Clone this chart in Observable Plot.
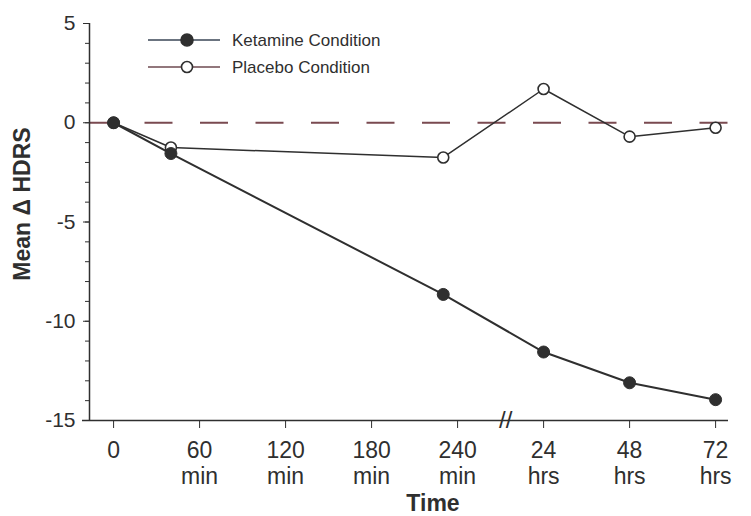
<!DOCTYPE html>
<html><head><meta charset="utf-8">
<script src="https://cdn.jsdelivr.net/npm/d3@7"></script>
<script src="https://cdn.jsdelivr.net/npm/@observablehq/plot@0.6"></script>
<style>body{margin:0;background:#fff} svg{display:block}</style>
</head><body><div id="chart"></div>
<script>
// ---- data ----
const timesMin = [0, 40, 230, 1440, 2880, 4320];            // minutes after infusion
const ketamine = [0, -1.55, -8.65, -11.55, -13.1, -13.95];
const placebo  = [0, -1.25, -1.75, 1.7, -0.7, -0.25];
const tickTimes  = [0, 60, 120, 180, 240, 1440, 2880, 4320];
const tickLabels = ["0", "60\nmin", "120\nmin", "180\nmin", "240\nmin", "24\nhrs", "48\nhrs", "72\nhrs"];
const yMajor = [5, 0, -5, -10, -15];
const yMinor = d3.range(-15, 6);
const seriesNames = ["Ketamine Condition", "Placebo Condition"];

// broken time axis: minutes up to 240 on one scale, then one slot per day
const pos = m => m <= 240 ? m / 60 : 4 + m / 1440;
const breakPos = 4.56;
const xDomain = [-0.28, 7.15];
const yDomain = [-15, 5];
const ink = "#2f2f2f";

const rows = vals => timesMin.map((t, i) => ({x: pos(t), y: vals[i]}));
const K = rows(ketamine), P = rows(placebo);
const labelAt = new Map(tickTimes.map((t, i) => [pos(t), tickLabels[i]]));

const chart = Plot.plot({
  width: 751, height: 516,
  marginLeft: 89, marginRight: 23, marginTop: 23, marginBottom: 96,
  x: {domain: xDomain, axis: null},
  y: {domain: yDomain, axis: null},
  style: {fontFamily: "'Liberation Sans', Arial, sans-serif", color: ink, background: "#fff"},
  marks: [
    Plot.ruleY([0], {stroke: "#7a4a50", strokeWidth: 2, strokeDasharray: "28,27.5"}),
    Plot.ruleX([xDomain[0]], {stroke: ink, strokeWidth: 1.5}),
    Plot.ruleY([yDomain[0]], {stroke: ink, strokeWidth: 1.5, insetLeft: -7}),
    Plot.axisY({ticks: yMinor, tickSize: 4, tickFormat: () => "", stroke: ink, label: null}),
    Plot.axisY({ticks: yMajor, tickSize: 6, tickPadding: 8, fontSize: 21, tickFormat: d => String(d), stroke: ink, fill: ink, label: null}),
    Plot.axisX({ticks: tickTimes.map(pos), tickSize: 8, tickPadding: 12, fontSize: 23, lineHeight: 1.1,
      tickFormat: d => labelAt.get(d), stroke: ink, fill: ink, label: null}),
    Plot.text([breakPos], {x: d => d, y: () => yDomain[0], text: () => "//", fontSize: 24, lineAnchor: "middle", fill: ink}),
    Plot.line(P, {x: "x", y: "y", stroke: ink, strokeWidth: 1.5}),
    Plot.dot(P, {x: "x", y: "y", r: 5.5, fill: "white", stroke: ink, strokeWidth: 1.6}),
    Plot.line(K, {x: "x", y: "y", stroke: ink, strokeWidth: 2}),
    Plot.dot(K, {x: "x", y: "y", r: 6, fill: ink, stroke: ink, strokeWidth: 1}),
    Plot.text(["Mean Δ HDRS"], {frameAnchor: "left", rotate: -90, dx: -67, dy: -18, fontSize: 23, fontWeight: "bold", fill: ink, lineAnchor: "middle", textAnchor: "middle"}),
    Plot.text(["Time"], {frameAnchor: "bottom", dx: 24, dy: 90, fontSize: 23, fontWeight: "bold", fill: ink, lineAnchor: "bottom"})
  ]
});
document.getElementById("chart").appendChild(chart);

// legend inside the plot area
const svg = d3.select(chart);
const leg = svg.append("g")
  .attr("font-family", "'Liberation Sans', Arial, sans-serif")
  .attr("font-size", 17)
  .attr("text-anchor", "start");
const legStyles = [
  {line: "#3a4656", fill: ink, y: 40},
  {line: "#6e4a50", fill: "white", y: 67}
];
seriesNames.forEach((name, i) => {
  const s = legStyles[i];
  leg.append("line").attr("x1", 148).attr("x2", 220).attr("y1", s.y).attr("y2", s.y).attr("stroke", s.line).attr("stroke-width", 1.5);
  leg.append("circle").attr("cx", 187).attr("cy", s.y).attr("r", i === 0 ? 6 : 5.5).attr("fill", s.fill).attr("stroke", ink).attr("stroke-width", 1.6);
  leg.append("text").attr("x", 232).attr("y", s.y).attr("dy", "0.35em").attr("text-anchor", "start").attr("fill", ink).text(name);
});
</script>
</body></html>
